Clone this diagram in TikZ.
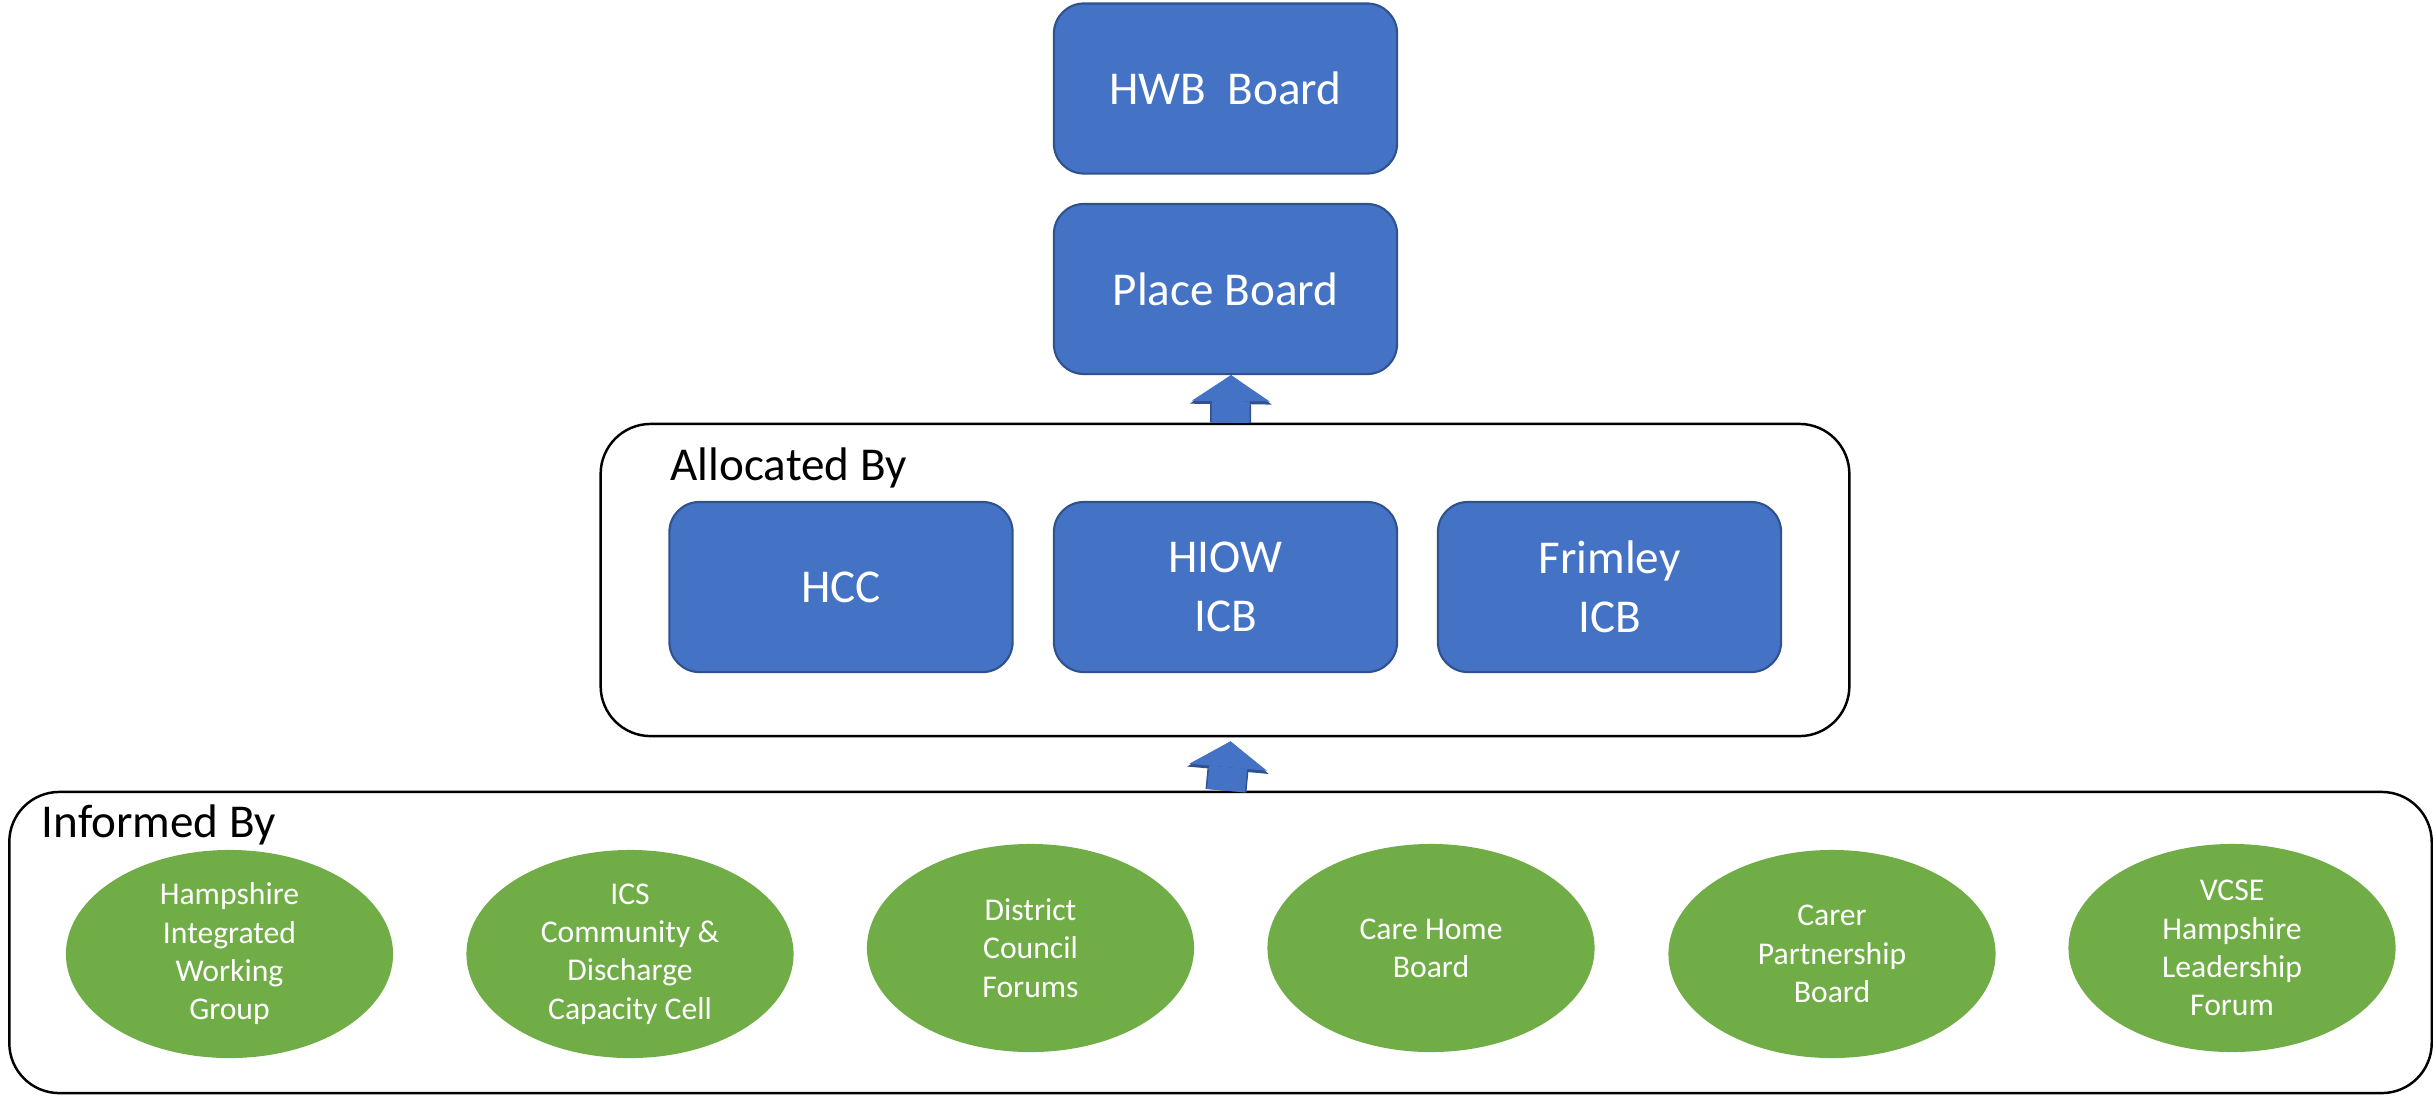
\documentclass[tikz,border=0pt]{standalone}
\usepackage{fontspec}
\setmainfont{Carlito}
\usetikzlibrary{shapes.geometric,arrows.meta}

\definecolor{boxblue}{HTML}{4472C4}
\definecolor{edgeblue}{HTML}{2F528F}
\definecolor{forumgreen}{HTML}{70AD47}

\begin{document}
\begin{tikzpicture}[x=0.01cm,y=-0.01cm,
  bigfont/.style={font=\fontsize{13.4}{16.7}\selectfont},
  smallfont/.style={font=\fontsize{9}{10.9}\selectfont},
  uparrow/.style={draw=boxblue, line width=0.38cm,
    -{Triangle[width=0.78cm,length=0.26cm,line width=0pt]},
    preaction={draw=edgeblue, line width=0.41cm,
      -{Triangle[width=0.82cm,length=0.29cm,line width=0pt]}}}]

        \useasboundingbox (0,0) rectangle (2433,1096);

        \begin{scope}[every node/.style={rectangle, draw, rounded corners=0.5cm, line width=0.7pt}]
          \node (alloc) at (1225,580)    [minimum width=12.48cm, minimum height=3.12cm] {};
          \node (info)  at (1220.5,942.5) [minimum width=24.21cm, minimum height=3.01cm] {};
        \end{scope}

        \node (allocby) at (670,480) [anchor=base west, inner sep=0, bigfont] {Allocated By};
        \node (infoby)  at (41,837)  [anchor=base west, inner sep=0, bigfont] {Informed By};

        \begin{scope}[every node/.style={rectangle, rounded corners=0.3cm, fill=boxblue, draw=edgeblue,
            line width=0.6pt, minimum width=3.43cm, minimum height=1.7cm, text=white, align=center, bigfont}]
          \node (hwb)     at (1225.5,88.5) {HWB\ \ Board};
          \node (place)   at (1225.5,289)  {Place Board};
          \node (hcc)     at (841,587)     {HCC};
          \node (hiow)    at (1225.5,587)  {HIOW\\ICB};
          \node (frimley) at (1609.5,587)  {Frimley\\ICB};
        \end{scope}

        \begin{scope}[every node/.style={ellipse, fill=forumgreen, inner sep=0, minimum width=3.27cm,
            minimum height=2.08cm, text=white, align=center, smallfont}]
          \node (f1) at (229.5,954) {Hampshire\\Integrated\\Working\\Group};
          \node (f2) at (630,954)   {ICS\\Community \&\\Discharge\\Capacity Cell};
          \node (f3) at (1030.5,948) {District\\Council\\Forums};
          \node (f4) at (1431,948)  {Care Home\\Board};
          \node (f5) at (1832,954)  {Carer\\Partnership\\Board};
          \node (f6) at (2232,948)  {VCSE\\Hampshire\\Leadership\\Forum};
        \end{scope}

        \draw[uparrow] ([xshift=0.055cm]alloc.north) -- ([xshift=0.055cm]place.south);
        \draw[uparrow] ([xshift=0.055cm]info.north) -- ([xshift=0.055cm,yshift=-0.04cm]alloc.south);
      \end{tikzpicture}
\end{document}
